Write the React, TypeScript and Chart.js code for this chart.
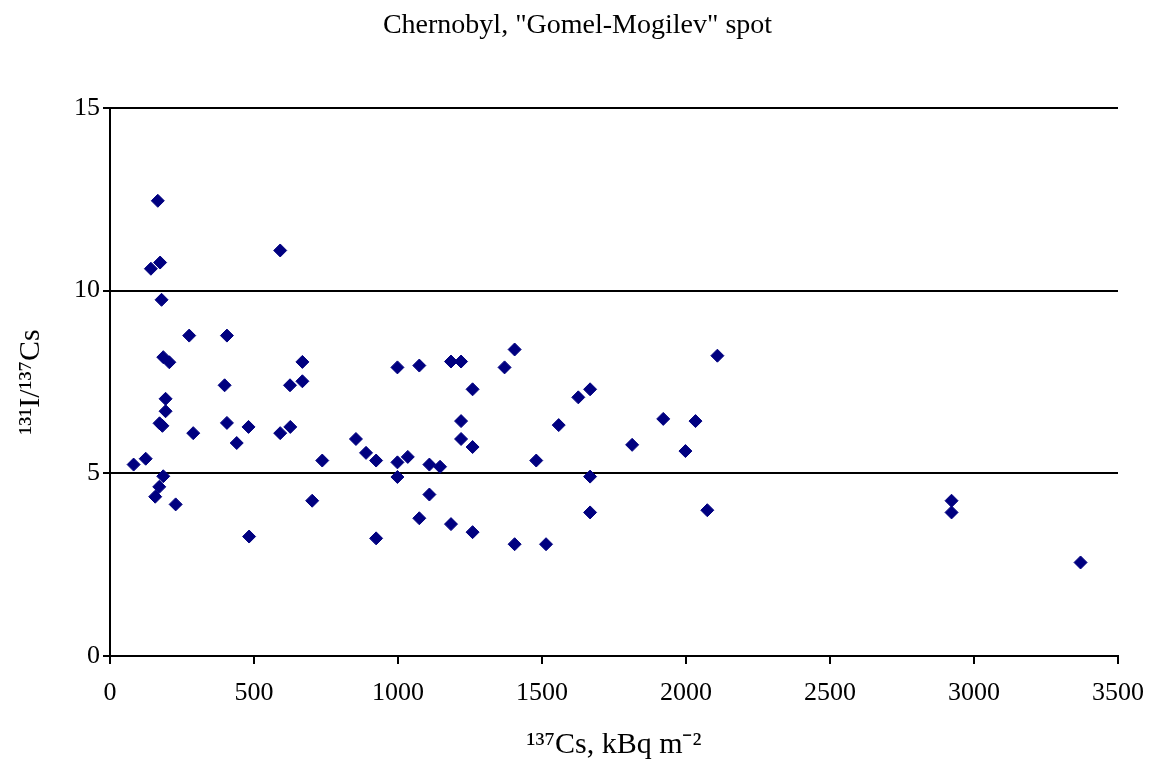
import React, { useEffect, useRef } from "react";
import { Chart, registerables } from "chart.js";

Chart.register(...registerables);

const chartTitle = 'Chernobyl, "Gomel-Mogilev" spot';
const xAxisTitle = "¹³⁷Cs, kBq m⁻²";
const yAxisTitle = "¹³¹I/¹³⁷Cs";

const csDeposition: number[] = [
  82, 124, 157, 171, 185, 228, 166, 142, 174, 179, 185, 206, 193, 193, 172, 182,
  275, 289, 406, 398, 406, 440, 481, 483, 591, 591, 625, 626, 668, 668, 702, 737,
  854, 889, 924, 924, 998, 998, 998, 1034, 1074, 1074, 1109, 1109, 1146, 1184,
  1184, 1219, 1219, 1219, 1259, 1259, 1259, 1370, 1405, 1405, 1480, 1514, 1558,
  1626, 1667, 1667, 1667, 1813, 1921, 1998, 2033, 2074, 2109, 2922, 2922, 3370,
];

const iodineCesiumRatio: number[] = [
  5.24, 5.4, 4.36, 4.63, 4.92, 4.15, 12.46, 10.6, 10.77, 9.75, 8.18, 8.04, 7.04, 6.7, 6.37, 6.3,
  8.77, 6.1, 8.77, 7.41, 6.38, 5.83, 6.27, 3.27, 11.1, 6.1, 7.41, 6.27, 8.05, 7.52, 4.25, 5.35,
  5.94, 5.56, 5.35, 3.22, 7.9, 5.3, 4.9, 5.45, 7.95, 3.77, 5.24, 4.42, 5.18, 8.06,
  3.61, 8.06, 6.43, 5.94, 7.3, 5.72, 3.39, 7.9, 8.39, 3.06, 5.35, 3.06, 6.32,
  7.08, 7.3, 4.91, 3.93, 5.78, 6.49, 5.61, 6.43, 3.99, 8.22, 4.25, 3.93, 2.56,
];

const xTicks = { min: 0, max: 3500, step: 500 };
const yTicks = { min: 0, max: 15, step: 5 };

const FONT = "'Liberation Serif', 'Times New Roman', serif";

export default function App() {
  const canvasRef = useRef<HTMLCanvasElement | null>(null);

  useEffect(() => {
    const canvas = canvasRef.current;
    if (!canvas) return;
    const points = csDeposition.map((x, i) => ({ x, y: iodineCesiumRatio[i] }));
    const chart = new Chart(canvas, {
      type: "scatter",
      data: {
        datasets: [
          {
            data: points,
            pointStyle: "rectRot",
            pointRadius: 6.5,
            pointHoverRadius: 6.5,
            backgroundColor: "#000080",
            borderColor: "#000080",
            borderWidth: 1,
          },
        ],
      },
      options: {
        responsive: false,
        animation: false,
        devicePixelRatio: 1,
        layout: { padding: { left: 0, right: 0, top: 0, bottom: 0 } },
        plugins: {
          legend: { display: false },
          tooltip: { enabled: false },
          title: {
            display: true,
            text: chartTitle,
            color: "#000",
            font: { family: FONT, size: 28, weight: "normal", lineHeight: 1.2 },
            padding: { top: 9, bottom: 65.4 },
          },
        },
        scales: {
          x: {
            type: "linear",
            min: xTicks.min,
            max: xTicks.max,
            afterFit: (s: any) => {
              s.height = 113;
              s.paddingRight = 37;
              s.paddingLeft = 0;
            },
            ticks: {
              stepSize: xTicks.step,
              color: "#000",
              padding: 14,
              maxRotation: 0,
              font: { family: FONT, size: 26 },
              callback: (v: any) => String(v),
            },
            grid: {
              drawOnChartArea: false,
              drawTicks: true,
              tickLength: 8,
              color: "#000",
              lineWidth: 2,
            },
            border: { display: true, color: "#000", width: 2 },
            title: {
              display: true,
              text: xAxisTitle,
              color: "#000",
              font: { family: FONT, size: 30, lineHeight: 1.2 },
              padding: { top: 0, bottom: 6 },
            },
          },
          y: {
            type: "linear",
            min: yTicks.min,
            max: yTicks.max,
            afterFit: (s: any) => {
              s.width = 110;
            },
            ticks: {
              stepSize: yTicks.step,
              color: "#000",
              padding: 3,
              font: { family: FONT, size: 26 },
              callback: (v: any) => String(v),
            },
            grid: {
              drawOnChartArea: true,
              drawTicks: true,
              tickLength: 7,
              color: "#000",
              lineWidth: 2,
            },
            border: { display: true, color: "#000", width: 2 },
            title: {
              display: true,
              text: yAxisTitle,
              color: "#000",
              font: { family: FONT, size: 30, lineHeight: 1.2 },
              padding: { top: 13, bottom: 0 },
            },
          },
        },
      },
    });
    return () => chart.destroy();
  }, []);

  return (
    <div style={{ position: "absolute", left: 0, top: 0, width: 1155, height: 769, background: "#fff" }}>
      <canvas ref={canvasRef} width={1155} height={769} style={{ width: 1155, height: 769 }} />
    </div>
  );
}
